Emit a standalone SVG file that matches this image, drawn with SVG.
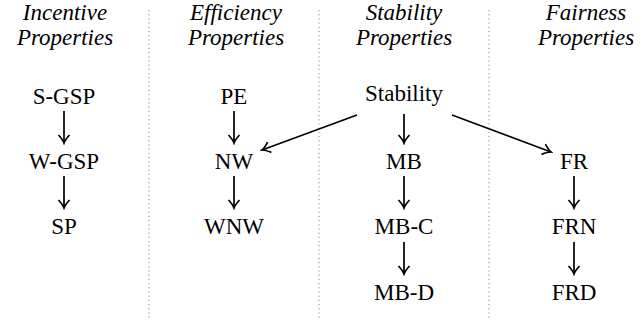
<svg xmlns="http://www.w3.org/2000/svg" width="644" height="320" viewBox="0 0 644 320" font-family="'Liberation Serif', 'Times New Roman', Times, serif">
<style>
text{font-family:'Liberation Serif','Times New Roman',Times,serif;font-size:23px;fill:#000;text-anchor:middle}
.h{font-style:italic}
.sep{stroke:#888;stroke-width:1;stroke-dasharray:1.2 3}
.e{stroke:#000;stroke-width:1.7;fill:none;marker-end:url(#ah)}
</style>
<defs>
<marker id="ah" viewBox="-10 -7 12 14" refX="0" refY="0" markerWidth="12" markerHeight="14" markerUnits="userSpaceOnUse" orient="auto">
<path d="M-8,-5.5 Q-3,-1 0,0 Q-3,1 -8,5.5" fill="none" stroke="#000" stroke-width="1.7"/>
</marker>
</defs>
<g id="separators">
<line class="sep" x1="149" y1="10" x2="149" y2="318"/>
<line class="sep" x1="319" y1="10" x2="319" y2="318"/>
<line class="sep" x1="489" y1="10" x2="489" y2="318"/>
</g>
<g id="headers">
<text class="h" x="65" y="20">Incentive</text><text class="h" x="65" y="45">Properties</text>
<text class="h" x="236" y="20">Efficiency</text><text class="h" x="236" y="45">Properties</text>
<text class="h" x="404" y="20">Stability</text><text class="h" x="404" y="45">Properties</text>
<text class="h" x="586" y="20">Fairness</text><text class="h" x="586" y="45">Properties</text>
</g>
<g id="S-GSP"><text x="64" y="104">S-GSP</text></g>
<g id="W-GSP"><text x="64" y="169">W-GSP</text></g>
<g id="SP"><text x="64" y="234">SP</text></g>
<g id="PE"><text x="234" y="104">PE</text></g>
<g id="NW"><text x="234" y="169">NW</text></g>
<g id="WNW"><text x="234" y="234">WNW</text></g>
<g id="Stability"><text x="404" y="101">Stability</text></g>
<g id="MB"><text x="404" y="169">MB</text></g>
<g id="MB-C"><text x="404" y="234">MB-C</text></g>
<g id="MB-D"><text x="404" y="300">MB-D</text></g>
<g id="FR"><text x="574" y="169">FR</text></g>
<g id="FRN"><text x="574" y="234">FRN</text></g>
<g id="FRD"><text x="574" y="300">FRD</text></g>
<g id="connectors">
<line class="e" x1="64" y1="111" x2="64" y2="143"/>
<line class="e" x1="64" y1="176" x2="64" y2="208"/>
<line class="e" x1="234" y1="111" x2="234" y2="143"/>
<line class="e" x1="234" y1="176" x2="234" y2="208"/>
<line class="e" x1="404" y1="114" x2="404" y2="143"/>
<line class="e" x1="404" y1="176" x2="404" y2="208"/>
<line class="e" x1="404" y1="242" x2="404" y2="274"/>
<line class="e" x1="574" y1="176" x2="574" y2="208"/>
<line class="e" x1="574" y1="242" x2="574" y2="274"/>
<line class="e" x1="357" y1="115" x2="262" y2="150"/>
<line class="e" x1="452" y1="115" x2="551" y2="152"/>
</g>
</svg>
